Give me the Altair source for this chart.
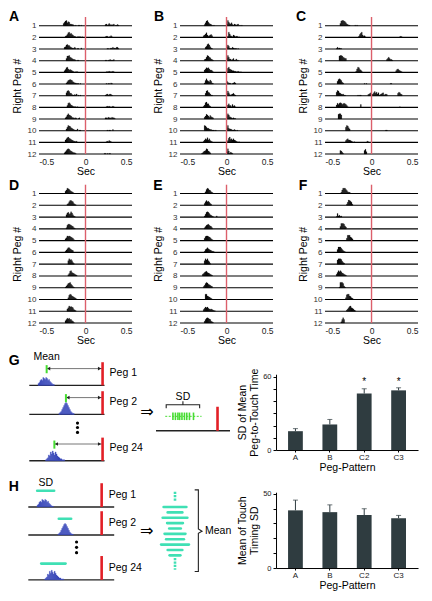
import altair as alt
import pandas as pd

FONT = "Liberation Sans"
INK = "#222222"
RED_RASTER = "#dc5f6b"
RED = "#e21f26"
BLUE = "#1d2b9e"
GREEN = "#46dc32"
TEAL = "#3fe0b4"
BAR = "#2f3c40"

# ---------------- raster panels A-F (data) ----------------
rows = list(range(1, 13))
x_ticks = [-0.5, 0.0, 0.5]
BIN = 0.01          # histogram bin (s)
HUNIT = 0.05        # row fraction per count digit
RED_TOP = 0.25      # touch line reaches this row level

hist_A = [
    [(-0.24, "46895763322101001101"), (0.21, "231242121301121")],
    [(-0.22, "2358967542210111101"), (0.21, "12201131")],
    [(-0.23, "3478664322131011002"), (0.23, "1101213121331")],
    [(-0.21, "48896543221011"), (0.21, "1101121112")],
    [(-0.23, "3589645432101110"), (0.22, "111211121")],
    [(-0.21, "2467876432211101"), (0.22, "1011021")],
    [(-0.21, "5897442112130101"), (0.21, "12312321")],
    [(-0.20, "378643211101"), (0.22, "121210121")],
    [(-0.22, "2479765322121012"), (0.21, "22132213221")],
    [(-0.21, "36987543211130110"), (0.23, "1011002")],
    [(-0.22, "4689765432212"), (0.22, "121321")],
    [(-0.23, "2468986543221"), (0.20, "1101011")],
]
hist_B = [
    [(-0.24, "25896432101"), (0.00, "39643521321230101")],
    [(-0.25, "3468423453"), (0.01, "2963214312201")],
    [(-0.23, "35897421"), (0.00, "4752113211101")],
    [(-0.24, "2369865321"), (0.00, "5963312411311")],
    [(-0.24, "4687864431"), (0.01, "796543322112101")],
    [(-0.24, "2696547521"), (0.00, "5312101232")],
    [(-0.23, "48965311"), (0.00, "4852123421")],
    [(-0.25, "24896632"), (0.01, "4633152310")],
    [(-0.24, "3587536432"), (0.00, "6974321211")],
    [(-0.24, "9864432211101"), (0.00, "594332112101")],
    [(-0.25, "2465846321"), (0.01, "3795646432101")],
    [(-0.27, "1245698542"), (0.00, "4951321")],
]
hist_C = [
    [(-0.34, "48998753211"), (-0.18, "101")],
    [(-0.14, "25794231"), (0.30, "121")],
    [(-0.38, "131211")],
    [(-0.35, "89986544"), (0.16, "2464221")],
    [(-0.17, "2698542"), (0.26, "3564321")],
    [(-0.37, "5898632"), (-0.08, "101"), (0.20, "11")],
    [(-0.38, "6985432311"), (-0.15, "1011"), (-0.04, "23452357463512"), (0.10, "3451232"), (0.28, "46532")],
    [(-0.38, "4757875676531"), (-0.13, "05"), (0.30, "1")],
    [(-0.36, "8997")],
    [(-0.28, "69853"), (0.15, "11")],
    [(-0.28, "3564432101"), (-0.05, "21")],
    [(-0.34, "6531"), (-0.08, "684")],
]
hist_D = [
    [(-0.22, "4698754321")],
    [(-0.20, "2368876321")],
    [(-0.21, "4785697421")],
    [(-0.21, "2688765421")],
    [(-0.22, "3587876542")],
    [(-0.22, "246886543")],
    [(-0.19, "6978631")],
    [(-0.19, "2489654321")],
    [(-0.22, "1357896421")],
    [(-0.19, "3798654321")],
    [(-0.20, "4697876321")],
    [(-0.22, "4687866431")],
]
hist_E = [
    [(-0.24, "1379865321")],
    [(-0.24, "36867532")],
    [(-0.24, "2589864321"), (-0.12, "02")],
    [(-0.24, "246786542")],
    [(-0.24, "4788765321")],
    [(-0.24, "25686543221")],
    [(-0.24, "6979641")],
    [(-0.26, "34678654321")],
    [(-0.25, "2479865432")],
    [(-0.23, "99654321")],
    [(-0.25, "3576754343211")],
    [(-0.24, "3689876321")],
]
hist_F = [
    [(-0.33, "26999753221")],
    [(-0.27, "2598752")],
    [(-0.38, "162312")],
    [(-0.34, "4999853")],
    [(-0.27, "49996531")],
    [(-0.37, "599975321")],
    [(-0.37, "79998532")],
    [(-0.38, "36979754321")],
    [(-0.35, "1999731")],
    [(-0.28, "389965321")],
    [(-0.27, "2468965421")],
    [(-0.33, "2696")],
]

# ---------------- bar charts (data) ----------------
bar_patterns = ["A", "B", "C2", "C3"]
g_bar_mean = [15.4, 20.9, 46.2, 48.8]
g_bar_err = [2.1, 4.1, 3.9, 2.1]
g_bar_sig = ["", "", "*", "*"]
h_bar_mean = [38.8, 37.6, 35.6, 33.5]
h_bar_err = [6.9, 4.9, 4.3, 1.9]
h_bar_sig = ["", "", "", ""]

# ---------------- schematics G / H (data) ----------------
peg_names = ["Peg 1", "Peg 2", "Peg 24"]
peg_row = [1.0, 2.0, 3.6]
peg_mean = [-290, -190, -250]                 # ms before touch
peg_sd = [44, 32, 63]                         # ms
peg_hist_start = [-45, -37, -46]              # ms relative to the mean
peg_hist = [
    [2, 3, 5, 6, 5, 8, 7, 6, 8, 7, 5, 6, 4, 3, 2, 1, 1],
    [1, 2, 3, 5, 7, 9, 11, 12, 11, 9, 7, 5, 3, 2, 1, 1],
    [1, 2, 3, 6, 5, 9, 7, 10, 8, 6, 9, 7, 5, 4, 3, 2, 2, 1, 1, 1],
]
HBIN_MS = 5
HCOUNT = 0.034
ellipsis_t = -130
ellipsis_rows_g = [2.3, 2.45, 2.62]
ellipsis_rows_h = [2.25, 2.44, 2.63]
touch_means = [-232, -219, -206, -197, -185, -172, -160, -146, -125]
touch_spread = [-272, -83]
sd_stack = [59, 38, 64, 41, 30, 54, 46, 72, 38, 28]

COL_W = [129, 120, 142]


def fmt_x():
    return ("datum.value < 0 ? '-' + format(-datum.value, '.1f') : "
            "(datum.value == 0 ? '0' : format(datum.value, '.1f'))")


def hist_frame(hist):
    recs = []
    for r, segs in zip(rows, hist):
        for start, s in segs:
            for i, ch in enumerate(s):
                h = int(ch)
                if h:
                    t0 = round(start + i * BIN, 3)
                    recs.append({"row": r, "t0": t0, "t1": round(t0 + BIN, 3),
                                 "top": r - h * HUNIT})
    return pd.DataFrame(recs)


PW = 93


def raster(name, hist, col, x0, chart_h, y_range, ldx, ldy):
    xs = alt.Scale(domain=[x_ticks[0], x_ticks[-1]], range=[x0, x0 + PW], nice=False, zero=False)
    ys = alt.Scale(domain=[RED_TOP, rows[-1]], range=y_range, nice=False, zero=False)
    xaxis = alt.Axis(values=x_ticks, title="Sec", labelExpr=fmt_x(), ticks=False, domain=False,
                     labelFontSize=8.5, labelPadding=3, titleFontSize=10.5, titlePadding=1,
                     titleFontWeight="normal", labelColor=INK)
    yaxis = alt.Axis(values=rows, title="Right Peg #", ticks=False, domain=False, format="d",
                     labelFontSize=8, labelPadding=3, titleFontSize=10.5, titlePadding=5,
                     titleFontWeight="normal", offset=-x0, labelColor="#333")
    X = lambda f: alt.X(f, scale=xs, axis=xaxis)
    Y = lambda f: alt.Y(f, scale=ys, axis=yaxis)
    lines_df = pd.DataFrame({"row": rows, "xs": x_ticks[0], "xe": x_ticks[-1]})
    lines = alt.Chart(lines_df).mark_rule(color="black", strokeWidth=1.1).encode(
        x=X("xs:Q"), x2="xe:Q", y=Y("row:Q"))
    bars = alt.Chart(hist_frame(hist)).mark_rect(color="black", stroke="black", strokeWidth=0.2).encode(
        x=X("t0:Q"), x2="t1:Q", y=Y("top:Q"), y2="row:Q")
    red_df = pd.DataFrame({"t": [x_ticks[1]], "y0": [RED_TOP], "y1": [rows[-1]]})
    red = alt.Chart(red_df).mark_rule(color=RED_RASTER, strokeWidth=1.4).encode(
        x=X("t:Q"), y=Y("y0:Q"), y2="y1:Q")
    lab_df = pd.DataFrame({"t": [x_ticks[0]], "y": [RED_TOP], "s": [name]})
    lab = alt.Chart(lab_df).mark_text(fontSize=14, fontWeight="bold", align="center",
                                      baseline="middle", dx=ldx, dy=ldy, color="black").encode(
        x=X("t:Q"), y=Y("y:Q"), text="s:N")
    return alt.layer(lines, bars, red, lab).properties(width=COL_W[col], height=chart_h)


def barchart(means, errs, sig, ytitle, ymax, ydom_top, y_range, chart_h):
    df = pd.DataFrame({"pattern": bar_patterns, "m": means, "e": errs, "sig": sig})
    df["top"] = df["m"] + df["e"]
    df["star"] = ymax - 2
    xs = alt.Scale(paddingInner=0.57, paddingOuter=0.35)
    ys = alt.Scale(domain=[0, ydom_top], range=y_range, nice=False, zero=True)
    xaxis = alt.Axis(title="Peg-Pattern", labelAngle=0, labelFontSize=8, tickSize=2,
                     labelPadding=1, titleFontSize=10.5, titlePadding=1,
                     titleFontWeight="normal", domainColor="black", tickColor="black",
                     labelColor=INK)
    yaxis = alt.Axis(values=list(range(0, ymax + 1, 10)), title=ytitle,
                     labelExpr=f"datum.value == 0 || datum.value == {ymax} ? format(datum.value, 'd') : ''",
                     tickSize=3, labelFontSize=7.5, labelPadding=2, titleFontSize=10.5,
                     titlePadding=3, titleFontWeight="normal", domainColor="black",
                     tickColor="black", labelColor=INK)
    X = lambda: alt.X("pattern:N", sort=bar_patterns, scale=xs, axis=xaxis)
    Y = lambda f: alt.Y(f, scale=ys, axis=yaxis)
    base = alt.Chart(df)
    bars = base.mark_bar(color=BAR).encode(x=X(), y=Y("m:Q"))
    err = base.mark_rule(color=BAR, strokeWidth=1).encode(x=X(), y=Y("m:Q"), y2="top:Q")
    cap = base.mark_tick(color=BAR, thickness=1, size=5).encode(x=X(), y=Y("top:Q"))
    star = base.mark_text(fontSize=10, baseline="middle", dy=3).encode(
        x=X(), y=Y("star:Q"), text="sig:N")
    return alt.layer(bars, err, cap, star).properties(width=COL_W[2], height=chart_h)


def blue_frame():
    recs = []
    for name, r, m, st, hs in zip(peg_names, peg_row, peg_mean, peg_hist_start, peg_hist):
        for i, c in enumerate(hs):
            t0 = m + st + i * HBIN_MS
            recs.append({"row": r, "t0": t0, "t1": t0 + HBIN_MS, "top": r - c * HCOUNT})
    return pd.DataFrame(recs)


def sketch_left(kind):
    if kind == "G":
        span = [-380, 10]
        xs = alt.Scale(domain=span, range=[2.3, 77.5], nice=False, zero=False)
        ys = alt.Scale(domain=[0, 4], range=[33.4, 149.4], nice=False, zero=False)
        red_h, dots, h, ldx, ldy = 0.8, ellipsis_rows_g, 127, -15, -24
    else:
        span = [-380, 65]
        xs = alt.Scale(domain=span, range=[1.3, 87.2], nice=False, zero=False)
        ys = alt.Scale(domain=[0, 4], range=[29, 141], nice=False, zero=False)
        red_h, dots, h, ldx, ldy = 0.85, ellipsis_rows_h, 118, -14.5, -20
    X = lambda f: alt.X(f, scale=xs, axis=None)
    Y = lambda f: alt.Y(f, scale=ys, axis=None)
    pdf = pd.DataFrame({"peg": peg_names, "row": peg_row, "mean": peg_mean, "sd": peg_sd})
    pdf["start"], pdf["end"], pdf["touch"] = span[0], span[1], 0
    pdf["red_top"] = pdf["row"] - red_h
    pdf["mark_y"] = pdf["row"] - 0.58
    pdf["tick_lo"] = pdf["row"] - 0.42
    pdf["tick_hi"] = pdf["row"] - 0.70
    pdf["label_y"] = pdf["row"] - 0.44
    pdf["lo"] = pdf["mean"] - pdf["sd"]
    pdf["hi"] = pdf["mean"] + pdf["sd"]
    layers = [
        alt.Chart(pdf).mark_rule(color=INK, strokeWidth=1.4).encode(
            x=X("start:Q"), x2="end:Q", y=Y("row:Q")),
        alt.Chart(blue_frame()).mark_rect(color=BLUE, stroke="#5a6ad8", strokeWidth=0.3).encode(
            x=X("t0:Q"), x2="t1:Q", y=Y("top:Q"), y2="row:Q"),
    ]
    if kind == "G":
        layers += [
            alt.Chart(pdf).mark_rule(color="#777777", strokeWidth=1).encode(
                x=X("mean:Q"), x2="touch:Q", y=Y("mark_y:Q")),
            alt.Chart(pdf).mark_point(shape="triangle-left", filled=True, size=14, color=INK,
                                      opacity=1, xOffset=2).encode(x=X("mean:Q"), y=Y("mark_y:Q")),
            alt.Chart(pdf).mark_point(shape="triangle-right", filled=True, size=14, color=INK,
                                      opacity=1, xOffset=-3).encode(x=X("touch:Q"), y=Y("mark_y:Q")),
            alt.Chart(pdf).mark_rule(color=GREEN, strokeWidth=2).encode(
                x=X("mean:Q"), y=Y("tick_lo:Q"), y2="tick_hi:Q"),
        ]
        top_lbl, top_y = "Mean", peg_row[0] - 0.97
    else:
        layers += [
            alt.Chart(pdf).mark_rule(color=TEAL, strokeWidth=2.6, strokeCap="round").encode(
                x=X("lo:Q"), x2="hi:Q", y=Y("mark_y:Q")),
        ]
        top_lbl, top_y = "SD", peg_row[0] - 0.85
    lab_df = pd.DataFrame({"t": [span[0]], "y": [peg_row[0]], "s": [kind]})
    layers += [
        alt.Chart(pdf).mark_rule(color=RED, strokeWidth=2.6).encode(
            x=X("touch:Q"), y=Y("row:Q"), y2="red_top:Q"),
        alt.Chart(pdf).mark_text(align="left", baseline="middle", dx=7, fontSize=10.5).encode(
            x=X("touch:Q"), y=Y("label_y:Q"), text="peg:N"),
        alt.Chart(pd.DataFrame({"t": [peg_mean[0]], "y": [top_y], "s": [top_lbl]})).mark_text(
            baseline="middle", fontSize=10.5).encode(x=X("t:Q"), y=Y("y:Q"), text="s:N"),
        alt.Chart(pd.DataFrame({"t": ellipsis_t, "y": dots})).mark_circle(
            size=10, color="black", opacity=1).encode(x=X("t:Q"), y=Y("y:Q")),
        alt.Chart(lab_df).mark_text(fontSize=14, fontWeight="bold", align="center",
                                    baseline="middle", dx=ldx, dy=ldy, color="black").encode(
            x=X("t:Q"), y=Y("y:Q"), text="s:N"),
    ]
    return alt.layer(*layers).properties(width=COL_W[0], height=h)


def sketch_gr():
    span = [-320, 65]
    xs = alt.Scale(domain=span, range=[0, 74], nice=False, zero=False)
    ys = alt.Scale(domain=[0, 4], range=[78.8, 194.8], nice=False, zero=False)
    X = lambda f: alt.X(f, scale=xs, axis=None)
    Y = lambda f: alt.Y(f, scale=ys, axis=None)
    base_df = pd.DataFrame({"a": [span[0]], "b": [span[1]], "row": [1.0], "t": [0],
                            "red_top": [1 - 0.83], "lo": [touch_spread[0]], "hi": [touch_spread[1]],
                            "gy": [0.5], "arrow_y": [1 - 0.64], "arr": ["\u21d2"]})
    ticks = pd.DataFrame({"t": touch_means, "y0": 0.37, "y1": 0.63})
    L, R = touch_spread[0] + 5, touch_spread[1] - 10
    C = (L + R) / 2
    brace = pd.DataFrame({"x": [L, L, C, C, C, R, R],
                          "y": [0.22, 0.1, 0.1, -0.02, 0.1, 0.1, 0.22],
                          "o": list(range(7))})
    sd_lbl = pd.DataFrame({"x": [C], "y": [1 - 1.16], "s": ["SD"]})
    layers = [
        alt.Chart(base_df).mark_rule(color=INK, strokeWidth=1.4).encode(x=X("a:Q"), x2="b:Q", y=Y("row:Q")),
        alt.Chart(base_df).mark_rule(color=GREEN, strokeWidth=1, strokeDash=[2, 1.5]).encode(
            x=X("lo:Q"), x2="hi:Q", y=Y("gy:Q")),
        alt.Chart(ticks).mark_rule(color=GREEN, strokeWidth=1.6).encode(x=X("t:Q"), y=Y("y0:Q"), y2="y1:Q"),
        alt.Chart(base_df).mark_rule(color=RED, strokeWidth=2.6).encode(x=X("t:Q"), y=Y("row:Q"), y2="red_top:Q"),
        alt.Chart(brace).mark_line(color=INK, strokeWidth=1.1).encode(x=X("x:Q"), y=Y("y:Q"), order="o:O"),
        alt.Chart(sd_lbl).mark_text(fontSize=10.5, baseline="middle").encode(x=X("x:Q"), y=Y("y:Q"), text="s:N"),
        alt.Chart(base_df).mark_text(fontSize=16, baseline="middle", dx=-9, font="DejaVu Sans").encode(
            x=X("a:Q"), y=Y("arrow_y:Q"), text="arr:N"),
    ]
    return alt.layer(*layers).properties(width=COL_W[1], height=127)


def sketch_hr():
    xs = alt.Scale(domain=[-100, 300], range=[-0.3, 76.9], nice=False, zero=False)
    ys = alt.Scale(domain=[-3, 17], range=[35.5, 142.9], nice=False, zero=False)
    X = lambda f: alt.X(f, scale=xs, axis=None)
    Y = lambda f: alt.Y(f, scale=ys, axis=None)
    n = len(sd_stack)
    st = pd.DataFrame({"slot": list(range(1, n + 1)), "sd": sd_stack})
    st["lo"], st["hi"] = -st["sd"], st["sd"]
    dots = pd.DataFrame({"x": [0, 0], "y0": [-1.85, n + 0.5], "y1": [-0.05, n + 2.7]})
    bx = max(sd_stack) + 49
    mid = (n + 1) / 2
    brace = pd.DataFrame({"x": [bx - 19, bx, bx, bx + 19, bx, bx, bx - 19],
                          "y": [-2.2, -2.2, mid - 0.4, mid, mid + 0.4, n + 3.0, n + 3.0],
                          "o": list(range(7))})
    lbl = pd.DataFrame({"x": [bx + 19], "y": [mid], "s": ["Mean"], "a": [-100], "arr": ["\u21d2"]})
    layers = [
        alt.Chart(st).mark_rule(color=TEAL, strokeWidth=2.6, strokeCap="round").encode(
            x=X("lo:Q"), x2="hi:Q", y=Y("slot:Q")),
        alt.Chart(dots).mark_rule(color=TEAL, strokeWidth=2.6, strokeDash=[2.2, 1.2]).encode(
            x=X("x:Q"), y=Y("y0:Q"), y2="y1:Q"),
        alt.Chart(brace).mark_line(color=INK, strokeWidth=1.1).encode(x=X("x:Q"), y=Y("y:Q"), order="o:O"),
        alt.Chart(lbl).mark_text(fontSize=10.5, align="left", baseline="middle", dx=3).encode(
            x=X("x:Q"), y=Y("y:Q"), text="s:N"),
        alt.Chart(lbl).mark_text(fontSize=16, baseline="middle", dx=-9, font="DejaVu Sans").encode(
            x=X("a:Q"), y=Y("y:Q"), text="arr:N"),
    ]
    return alt.layer(*layers).properties(width=COL_W[1], height=118)


pA = raster("A", hist_A, 0, 12, 137, [0, 137], -25, 0)
pB = raster("B", hist_B, 1, 24, 137, [0, 137], -21, 0)
pC = raster("C", hist_C, 2, 49, 137, [0, 137], -24, 0)
pD = raster("D", hist_D, 0, 12, 169, [30.7, 169], -25, 1)
pE = raster("E", hist_E, 1, 24, 169, [30.7, 169], -22, 1)
pF = raster("F", hist_F, 2, 49, 169, [30.7, 169], -22, 1)
gL = sketch_left("G")
gR = sketch_gr()
gB = barchart(g_bar_mean, g_bar_err, g_bar_sig, ["SD of Mean", "Peg-to-Touch Time"], 60, 62, [127, 51.2], 127)
hL = sketch_left("H")
hR = sketch_hr()
hB = barchart(h_bar_mean, h_bar_err, h_bar_sig, ["Mean of Touch", "Timing SD"], 50, 51, [118, 42.2], 118)

chart = alt.concat(pA, pB, pC, pD, pE, pF, gL, gR, gB, hL, hR, hB, columns=3,
                   spacing=0.01, align="each", bounds="flush").properties(
    padding={"top": 2, "left": 0, "right": 0, "bottom": 0}
).configure(font=FONT).configure_view(stroke=None).configure_axis(grid=False)

chart.save("out.html", embed_options={"renderer": "svg", "actions": False})
